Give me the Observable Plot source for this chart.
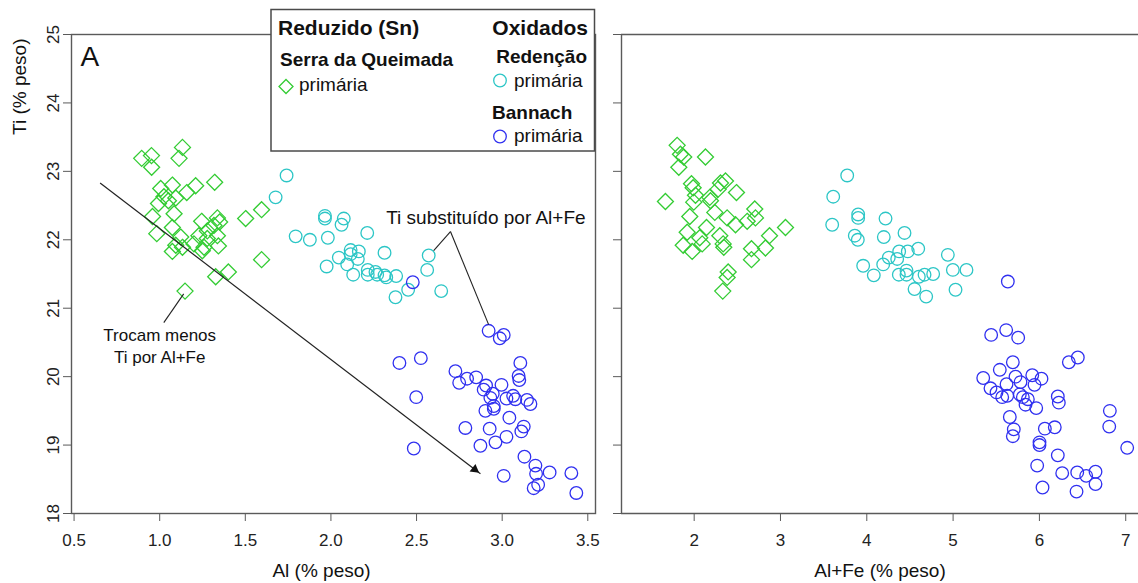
<!DOCTYPE html>
<html><head><meta charset="utf-8">
<script src="https://cdn.jsdelivr.net/npm/d3@7"></script>
<script src="https://cdn.jsdelivr.net/npm/@observablehq/plot@0.6"></script>
<style>
body{margin:0;background:#fff;font-family:"Liberation Sans",Arial,sans-serif;}
#wrap{position:relative;width:1138px;height:583px;overflow:hidden;background:#fff;}
#left{position:absolute;left:0;top:0;width:610px;height:583px;}
#right{position:absolute;left:600px;top:0;width:538px;height:583px;}
#legend{position:absolute;left:0;top:0;pointer-events:none;}
</style></head>
<body>
<div id="wrap"><div id="left"></div><div id="right"></div>
<svg id="legend" width="1138" height="583" font-family='"Liberation Sans", Arial, sans-serif' fill="#111">
  <rect x="271" y="9.5" width="323.5" height="141.5" fill="#fff" stroke="#4a4a4a" stroke-width="1.5"></rect>
  <text x="278" y="35" font-size="21" font-weight="bold">Reduzido (Sn)</text>
  <text x="588" y="35" font-size="21" font-weight="bold" text-anchor="end">Oxidados</text>
  <text x="280" y="66" font-size="19" font-weight="bold">Serra da Queimada</text>
  <path d="M286,79.5L293,86.5L286,93.5L279,86.5Z" fill="none" stroke="#33cc33" stroke-width="1.3"></path>
  <text x="299" y="91" font-size="19">primária</text>
  <text x="587" y="63" font-size="19" font-weight="bold" text-anchor="end">Redenção</text>
  <circle cx="500" cy="80.5" r="6.3" fill="none" stroke="#2cc6c6" stroke-width="1.3"></circle>
  <text x="514" y="86.5" font-size="19">primária</text>
  <text x="492" y="118.5" font-size="19" font-weight="bold">Bannach</text>
  <circle cx="500" cy="136.5" r="6.3" fill="none" stroke="#3030f0" stroke-width="1.3"></circle>
  <text x="514" y="142" font-size="19">primária</text>
</svg>
</div>
<script>
// ---- data: [x, Ti] pairs ----
const serraAl = [[0.895,23.19],[0.952,23.23],[0.953,23.06],[1.133,23.35],[1.113,23.19],[1.321,22.84],[1.210,22.79],[1.074,22.80],[1.006,22.75],[1.158,22.69],[1.025,22.63],[1.094,22.61],[0.993,22.53],[1.051,22.57],[1.084,22.38],[0.958,22.34],[1.502,22.31],[1.595,22.44],[1.245,22.27],[1.337,22.32],[1.317,22.21],[1.074,22.18],[0.983,22.09],[1.278,22.13],[1.337,22.06],[1.123,22.04],[1.229,22.06],[1.200,21.94],[1.094,21.92],[1.074,21.83],[1.133,21.89],[1.259,21.89],[1.343,21.91],[1.249,21.84],[1.595,21.71],[1.327,21.46],[1.401,21.53],[1.148,21.25],[1.278,22.02],[1.350,22.26]];
const redencaoAl = [[1.741,22.94],[1.677,22.62],[1.965,22.35],[1.965,22.31],[2.075,22.31],[2.062,22.22],[1.794,22.05],[1.877,22.00],[1.982,22.03],[2.212,22.10],[2.115,21.85],[2.163,21.83],[2.115,21.79],[2.046,21.74],[2.157,21.72],[2.313,21.81],[1.975,21.61],[2.095,21.64],[2.130,21.49],[2.215,21.56],[2.215,21.49],[2.260,21.53],[2.270,21.49],[2.313,21.48],[2.323,21.45],[2.381,21.47],[2.571,21.77],[2.562,21.56],[2.451,21.27],[2.377,21.16],[2.644,21.25]];
const bannachAl = [[2.478,21.38],[2.921,20.67],[2.986,20.56],[3.009,20.61],[2.400,20.20],[2.525,20.27],[2.498,19.70],[2.484,18.95],[2.727,20.08],[2.749,19.91],[2.795,19.97],[2.848,19.99],[2.906,19.87],[2.892,19.81],[2.945,19.75],[2.996,19.88],[3.106,20.20],[3.096,20.01],[3.100,19.95],[2.931,19.69],[3.025,19.68],[3.064,19.72],[3.077,19.67],[3.145,19.66],[3.165,19.60],[2.951,19.57],[2.951,19.53],[2.902,19.50],[3.042,19.40],[2.785,19.25],[2.927,19.24],[3.025,19.12],[2.961,19.04],[2.873,18.99],[3.126,19.27],[3.112,19.20],[3.130,18.83],[3.194,18.70],[3.198,18.58],[3.277,18.60],[3.210,18.42],[3.184,18.37],[3.009,18.55],[3.404,18.59],[3.433,18.30]];
const serraAlFe = [[1.803,23.38],[1.841,23.25],[1.879,23.21],[1.822,23.06],[2.131,23.21],[1.667,22.56],[1.969,22.82],[1.988,22.76],[2.015,22.65],[1.995,22.55],[2.305,22.83],[2.363,22.86],[2.278,22.74],[2.181,22.62],[2.189,22.57],[2.490,22.69],[1.949,22.34],[2.239,22.40],[2.382,22.32],[2.479,22.22],[2.702,22.45],[2.710,22.32],[2.614,22.27],[2.143,22.18],[1.919,22.11],[2.065,22.03],[1.873,21.92],[1.977,21.83],[2.093,21.94],[2.297,22.06],[2.336,21.94],[2.343,21.89],[2.873,22.06],[3.058,22.18],[2.664,21.87],[2.826,21.88],[2.664,21.71],[2.394,21.53],[2.382,21.45],[2.331,21.25]];
const redencaoAlFe = [[3.773,22.94],[3.611,22.63],[3.599,22.22],[3.900,22.37],[3.900,22.32],[4.217,22.31],[3.861,22.06],[3.896,22.00],[4.197,22.04],[4.437,22.10],[4.375,21.83],[4.475,21.83],[4.596,21.87],[4.255,21.74],[4.352,21.72],[4.190,21.64],[3.958,21.62],[4.081,21.48],[4.371,21.49],[4.460,21.55],[4.460,21.49],[4.603,21.46],[4.669,21.49],[4.769,21.50],[4.939,21.78],[4.997,21.56],[5.155,21.56],[4.553,21.28],[4.688,21.17],[5.028,21.27]];
const bannachAlFe = [[5.634,21.39],[5.441,20.61],[5.615,20.68],[5.754,20.57],[5.692,20.21],[5.541,20.10],[5.349,19.98],[5.723,20.00],[5.781,19.92],[5.917,20.02],[6.024,19.97],[5.943,19.88],[5.619,19.89],[5.433,19.83],[5.503,19.77],[5.569,19.70],[5.627,19.72],[5.773,19.74],[5.808,19.70],[5.866,19.67],[5.839,19.59],[5.963,19.54],[6.213,19.71],[6.225,19.62],[6.341,20.21],[6.445,20.28],[5.657,19.41],[5.703,19.23],[5.692,19.13],[6.063,19.24],[6.178,19.26],[6.001,19.04],[6.001,19.00],[6.816,19.50],[6.809,19.27],[7.017,18.96],[6.213,18.85],[5.974,18.70],[6.264,18.59],[6.438,18.60],[6.542,18.55],[6.650,18.61],[6.650,18.43],[6.036,18.38],[6.430,18.32]];

// ---- axes / ticks ----
const xTicksAl = [0.5, 1.0, 1.5, 2.0, 2.5, 3.0, 3.5];
const xTicksAlFe = [2, 3, 4, 5, 6, 7];
const yTicks = [18, 19, 20, 21, 22, 23, 24, 25];
const xDomainAl = [0.485, 3.545];
const xDomainAlFe = [1.158, 7.148];
const yDomain = [18, 25];

// ---- annotations (data coordinates) ----
const trendArrow = [{x1: 0.652, y1: 22.83, x2: 2.873, y2: 18.58}];
const lowLabel = [{x: 1.0, y: 20.75, text: "Trocam menos\nTi por Al+Fe"}];
const lowLeader = [{x1: 1.14, y1: 21.21, x2: 1.024, y2: 20.79}];
const highLabel = [{x: 2.905, y: 22.32, text: "Ti substituído por Al+Fe"}];
const highLeaders = [{x1: 2.698, y1: 22.12, x2: 2.600, y2: 21.84}, {x1: 2.698, y1: 22.12, x2: 2.921, y2: 20.76}];

const green = "#33cc33", cyan = "#2cc6c6", blue = "#3030f0";
const lineCol = "#5a5a5a", textCol = "#222";
const font = '"Liberation Sans", Arial, sans-serif';
const X = d => d[0], Y = d => d[1];
const fmtInt = d3.format("d");

function groupDots(sq, rd, bn) {
  return [
    Plot.dot(sq, {x: X, y: Y, symbol: "diamond2", r: 7.2, stroke: green, strokeWidth: 1.3, fill: "none"}),
    Plot.dot(rd, {x: X, y: Y, symbol: "circle", r: 6.3, stroke: cyan, strokeWidth: 1.3, fill: "none"}),
    Plot.dot(bn, {x: X, y: Y, symbol: "circle", r: 6.3, stroke: blue, strokeWidth: 1.3, fill: "none"})
  ];
}

const leftPlot = Plot.plot({
  width: 610, height: 583,
  marginLeft: 71, marginRight: 15, marginTop: 34, marginBottom: 70,
  x: {domain: xDomainAl},
  y: {domain: yDomain},
  style: {fontFamily: font, fontSize: "17px", color: textCol, background: "transparent", overflow: "visible"},
  marks: [
    Plot.frame({stroke: lineCol, strokeWidth: 1.4}),
    Plot.axisX({ticks: xTicksAl, tickFormat: d3.format(".1f"), tickSize: 8, tickPadding: 12, stroke: lineCol, fill: textCol, label: null, fontSize: 17}),
    Plot.axisY({ticks: yTicks, tickFormat: fmtInt, tickSize: 8, tickPadding: 5, tickRotate: -90, textAnchor: "middle", lineAnchor: "bottom", stroke: lineCol, fill: textCol, label: null, fontSize: 17}),
    ...groupDots(serraAl, redencaoAl, bannachAl),
    Plot.link(trendArrow, {x1: "x1", y1: "y1", x2: "x2", y2: "y2", stroke: "#222", strokeWidth: 1.2}),
    Plot.dot(trendArrow, {x: "x2", y: "y2", symbol: "triangle2", r: 4.6, fill: "#111", stroke: "none", rotate: 127.4, dx: -5.7, dy: -4.4}),
    Plot.link(lowLeader, {x1: "x1", y1: "y1", x2: "x2", y2: "y2", stroke: "#222", strokeWidth: 1.1}),
    Plot.text(lowLabel, {x: "x", y: "y", text: "text", lineAnchor: "top", textAnchor: "middle", fontSize: 17, lineHeight: 1.3, fill: "#111"}),
    Plot.link(highLeaders, {x1: "x1", y1: "y1", x2: "x2", y2: "y2", stroke: "#222", strokeWidth: 1.1}),
    Plot.text(highLabel, {x: "x", y: "y", text: "text", textAnchor: "middle", lineAnchor: "middle", fontSize: 19, fill: "#111"}),
    Plot.text(["A"], {frameAnchor: "top-left", dx: 9, dy: 12, textAnchor: "start", lineAnchor: "top", fontSize: 28, fill: "#111"}),
    Plot.text(["Al (% peso)"], {frameAnchor: "bottom", dx: -12, dy: 57, lineAnchor: "middle", fontSize: 19, fill: "#111"}),
    Plot.text(["Ti (% peso)"], {frameAnchor: "top-left", dx: -52, dy: 4, rotate: -90, textAnchor: "end", lineAnchor: "middle", fontSize: 19, fill: "#111"})
  ]
});
document.getElementById("left").appendChild(leftPlot);

const rightPlot = Plot.plot({
  width: 538, height: 583,
  marginLeft: 21, marginRight: 0, marginTop: 34, marginBottom: 70,
  x: {domain: xDomainAlFe},
  y: {domain: yDomain},
  style: {fontFamily: font, fontSize: "17px", color: textCol, background: "transparent", overflow: "visible"},
  marks: [
    Plot.ruleY([yDomain[1]], {stroke: lineCol, strokeWidth: 1.4}),
    Plot.ruleY([yDomain[0]], {stroke: lineCol, strokeWidth: 1.4}),
    Plot.ruleX([xDomainAlFe[0]], {stroke: lineCol, strokeWidth: 1.4}),
    Plot.axisX({ticks: xTicksAlFe, tickFormat: fmtInt, tickSize: 8, tickPadding: 12, stroke: lineCol, fill: textCol, label: null, fontSize: 17}),
    Plot.axisY({ticks: yTicks, tickSize: 8, tickFormat: () => "", stroke: lineCol, label: null}),
    ...groupDots(serraAlFe, redencaoAlFe, bannachAlFe),
    Plot.text(["Al+Fe (% peso)"], {frameAnchor: "bottom", dx: 0, dy: 57, lineAnchor: "middle", fontSize: 19, fill: "#111"})
  ]
});
document.getElementById("right").appendChild(rightPlot);
</script>
</body></html>
